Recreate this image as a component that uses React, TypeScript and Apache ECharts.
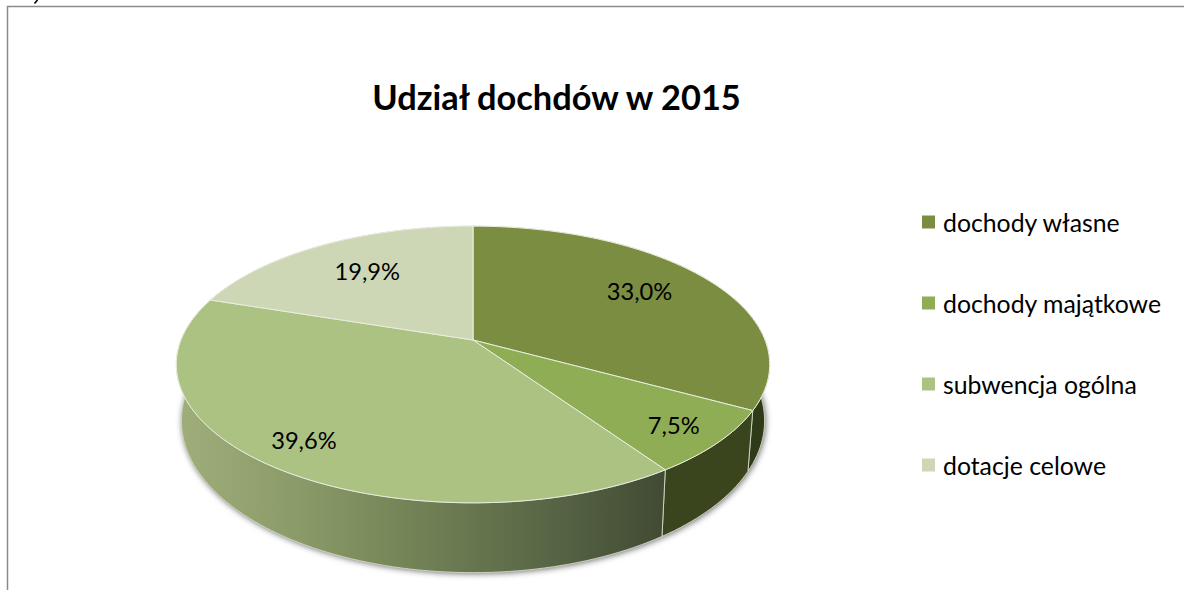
import React, { useEffect, useRef } from "react";
import * as echarts from "echarts";

const titleText = "Udział dochdów w 2015";
const categories = ["dochody własne", "dochody majątkowe", "subwencja ogólna", "dotacje celowe"];
const values = [33.0, 7.5, 39.6, 19.9];

const topColors = ["#7a8d41", "#8fad55", "#acc283", "#cdd7b5"];
const labelRadius = [0.7, 0.85, 0.85, 0.7];
const labelShiftX = [1, -3.5, 1, 3];
const labelShiftY = [-4.5, 0, -3.5, 0];
const FONT = "Lato, 'Open Sans', sans-serif";

const W = 1184;
const H = 590;
const CX = 473;
const K = 0.177;
const topDisk = { y0: 340, a: 292, b: 134 };
const bottomDisk = { y0: 394, a: 287, b: 147 };

type Disk = { y0: number; a: number; b: number };

function project(d: Disk, frac: number, r: number): number[] {
  const t = frac * 2 * Math.PI;
  const u = r * Math.sin(t);
  const v = -r * Math.cos(t);
  const w = 1 - K * v;
  return [CX + (d.a * u) / w, d.y0 + (d.b * v) / w];
}

function arc(d: Disk, from: number, to: number): number[][] {
  const n = Math.max(8, Math.ceil((to - from) * 240));
  const pts: number[][] = [];
  for (let i = 0; i <= n; i++) pts.push(project(d, from + ((to - from) * i) / n, 1));
  return pts;
}

const total = values.reduce((s, v) => s + v, 0);

function wallFill(i: number): any {
  if (i === 2) {
    return new echarts.graphic.LinearGradient(0, 0, 1, 0, [
      { offset: 0, color: "#9fae7b" },
      { offset: 0.2, color: "#8f9f6c" },
      { offset: 0.42, color: "#79895a" },
      { offset: 0.75, color: "#596746" },
      { offset: 1, color: "#414a33" },
    ]);
  }
  return i === 0 ? "#2f3a18" : "#3a451d";
}

function renderSlice(i: number) {
  const start = values.slice(0, i).reduce((s, v) => s + v, 0) / total;
  const end = start + values[i] / total;
  const mid = (start + end) / 2;
  const topArc = arc(topDisk, start, end);
  const botArc = arc(bottomDisk, start, end);
  const labelPos = project(topDisk, mid, labelRadius[i]);
  return {
    type: "group",
    children: [
      {
        type: "polygon",
        z2: 0,
        shape: { points: [project(bottomDisk, 0, 0), ...botArc] },
        style: {
          fill: "#6b6b6b",
          shadowBlur: 6,
          shadowColor: "rgba(0,0,0,0.6)",
          shadowOffsetX: 1,
          shadowOffsetY: 1,
        },
      },
      {
        type: "polygon",
        z2: 1,
        shape: { points: [...topArc, ...botArc.slice().reverse()] },
        style: { fill: wallFill(i), stroke: "#d3dac6", lineWidth: 0.9 },
      },
      {
        type: "polygon",
        z2: 5,
        shape: { points: [project(topDisk, 0, 0), ...topArc] },
        style: { fill: topColors[i], stroke: "#e9eee0", lineWidth: 1 },
      },
      {
        type: "text",
        z2: 10,
        x: labelPos[0] + labelShiftX[i],
        y: labelPos[1] + labelShiftY[i],
        style: {
          text: values[i].toFixed(1).replace(".", ",") + "%",
          fill: "#000",
          font: `23.7px ${FONT}`,
          textAlign: "center",
          textVerticalAlign: "middle",
        },
      },
    ],
  };
}

export default function App() {
  const ref = useRef<HTMLDivElement>(null);
  useEffect(() => {
    const chart = echarts.init(ref.current!, undefined, { renderer: "svg" });
    chart.setOption({
      animation: false,
      backgroundColor: "#fff",
      color: topColors,
      title: {
        text: titleText,
        left: 551.5,
        top: 74,
        textAlign: "center",
        textStyle: { fontFamily: FONT, fontSize: 34.4, fontWeight: "bold", color: "#000" },
      },
      legend: {
        orient: "vertical",
        left: 917,
        top: 203,
        icon: "rect",
        itemWidth: 13,
        itemHeight: 13,
        itemGap: 53,
        selectedMode: false,
        data: categories,
        textStyle: { fontFamily: FONT, fontSize: 24.8, color: "#000", lineHeight: 28, padding: [0, 0, 0, 3] },
      },
      graphic: [
        {
          type: "polyline",
          shape: { points: [[7.5, H], [7.5, 6.5], [W, 6.5]] },
          style: { stroke: "#8a8a8a", lineWidth: 1.5, fill: "none" },
        },
        {
          type: "line",
          shape: { x1: 37.5, y1: 0, x2: 34.5, y2: 3.5 },
          style: { stroke: "#000", lineWidth: 1.6 },
        },
      ],
      series: categories.map((name, i) => ({
        type: "custom",
        name,
        coordinateSystem: "none",
        itemStyle: { color: topColors[i] },
        data: [[values[i]]],
        renderItem: () => renderSlice(i),
      })),
    });
    return () => chart.dispose();
  }, []);
  return <div ref={ref} style={{ position: "absolute", left: 0, top: 0, width: W, height: H }} />;
}
